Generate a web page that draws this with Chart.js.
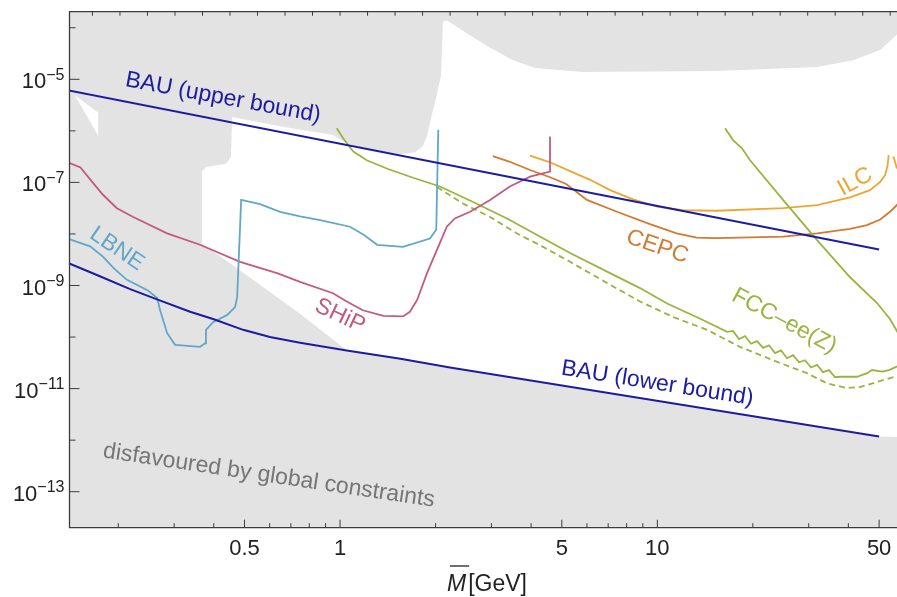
<!DOCTYPE html>
<html>
<head>
<meta charset="utf-8">
<title>HNL sensitivity</title>
<script src="https://cdn.jsdelivr.net/npm/chart.js@4.4.1/dist/chart.umd.min.js"></script>
<style>
  html, body { margin: 0; padding: 0; background: #fff; }
  canvas { display: block; }
</style>
</head>
<body>
<canvas id="chart" width="897" height="597"></canvas>
<script>
// masses in GeV, mixings given as log10(U^2)
var xRange = [0.1404, 56.93];
var yRangeLog = [-13.698, -3.689];

var xTickValues = [0.5, 1, 5, 10, 50];
var xMinorTicks = [0.2, 0.3, 0.4, 0.6, 0.7, 0.8, 0.9, 2, 3, 4, 6, 7, 8, 9, 20, 30, 40];
var yTickExps = [-13, -11, -9, -7, -5];
var yMinorExps = [-12, -10, -8, -6, -4];

var bauUpperM = [0.1, 50];
var bauUpperLogU2 = [-5.04, -8.30];

var bauLowerM = [0.135, 0.175, 0.218, 0.265, 0.337, 0.398, 0.495, 0.601, 0.748, 1.05, 1.55, 2.22, 50];
var bauLowerLogU2 = [-8.53, -8.82, -9.07, -9.27, -9.51, -9.65, -9.86, -10.00, -10.11, -10.26, -10.42, -10.59, -11.93];

var lbneM = [0.14, 0.163, 0.179, 0.193, 0.213, 0.247, 0.265, 0.271, 0.285, 0.302, 0.362, 0.376, 0.378, 0.398, 0.441,
  0.467, 0.474, 0.488, 0.560, 0.647, 0.748, 0.865, 1.075, 1.19, 1.31, 1.58, 1.92, 2.01, 2.04];
var lbneLogU2 = [-8.10, -8.24, -8.44, -8.66, -8.89, -9.09, -9.24, -9.48, -9.92, -10.15, -10.19, -10.12, -9.86, -9.71, -9.57,
  -9.42, -9.22, -7.34, -7.42, -7.57, -7.66, -7.73, -7.86, -8.02, -8.21, -8.25, -8.09, -7.92, -5.98];

var shipM = [0.14, 0.152, 0.167, 0.179, 0.198, 0.223, 0.285, 0.362, 0.484, 0.633, 0.748, 0.950, 1.05, 1.18,
  1.37, 1.58, 1.66, 1.75, 1.88, 2.02, 2.17, 2.30, 2.57, 2.97, 3.43, 3.97, 4.59, 4.59];
var shipLogU2 = [-6.62, -6.71, -7.02, -7.24, -7.50, -7.67, -7.99, -8.21, -8.54, -8.76, -8.93, -9.15, -9.31, -9.48,
  -9.59, -9.60, -9.51, -9.28, -8.76, -8.31, -7.86, -7.70, -7.57, -7.34, -7.08, -6.89, -6.79, -6.11];

var fccM = [0.976, 1.024, 1.101, 1.214, 1.417, 1.699, 2.066, 2.626, 3.36, 4.178, 5.308, 7.095, 8.82, 10.73, 13.6,
  16.59, 17.32, 18.09, 18.90, 19.74, 20.62, 21.54, 22.49, 23.49, 24.54, 25.63, 26.77, 27.96, 29.21, 30.51,
  31.87, 33.28, 34.76, 36.31, 37.66, 42.6, 45.8, 47.5, 51.1, 53.7, 57.5];
var fccLogU2 = [-5.95, -6.15, -6.40, -6.57, -6.74, -6.91, -7.08, -7.38, -7.70, -8.02, -8.37, -8.76, -9.05, -9.35, -9.64,
  -9.90, -9.88, -10.04, -9.98, -10.13, -10.08, -10.21, -10.16, -10.31, -10.26, -10.41, -10.35, -10.49, -10.45, -10.59,
  -10.54, -10.68, -10.64, -10.78, -10.77, -10.77, -10.70, -10.64, -10.67, -10.64, -10.56];

var fccDashedM = [2.02, 2.44, 2.97, 3.61, 4.36, 5.31, 6.84, 8.82, 11.2, 14.35, 18.2, 23.15, 29.6, 34.3, 39.6, 43.5, 49.3, 57.5];
var fccDashedLogU2 = [-7.09, -7.41, -7.67, -7.99, -8.25, -8.54, -8.93, -9.31, -9.61, -9.86, -10.19, -10.45, -10.70, -10.90,
  -10.99, -10.97, -10.87, -10.75];

var fccHighM = [16.35, 17.32, 18.49, 19.6, 24.9, 31.87, 40.5, 49.25, 54.1, 57.5];
var fccHighLogU2 = [-5.95, -6.18, -6.34, -6.57, -7.34, -8.12, -8.84, -9.34, -9.65, -9.93];

var cepcM = [3.03, 3.43, 3.97, 4.59, 5.16, 5.58, 6.00, 7.46, 9.48, 11.5, 13.3, 15.4, 24.9, 31.9, 40.5, 45.8, 50.4, 54.1, 57.5];
var cepcLogU2 = [-6.49, -6.60, -6.76, -6.90, -7.03, -7.19, -7.34, -7.57, -7.81, -7.99, -8.07, -8.08, -8.05, -7.99, -7.90,
  -7.83, -7.72, -7.57, -7.41];

var ilcM = [3.97, 4.59, 5.31, 6.14, 7.10, 8.39, 9.98, 12.05, 15.4, 24.9, 31.9, 40.5, 46.8, 50.4, 52.2, 53.15, 53.6];
var ilcLogU2 = [-6.48, -6.61, -6.78, -6.95, -7.15, -7.33, -7.47, -7.54, -7.55, -7.50, -7.44, -7.29, -7.15, -6.99, -6.86,
  -6.68, -6.47];
var ilcTailM = [55.5, 56.9];
var ilcTailLogU2 = [-6.50, -6.73];

// region left open by the global constraints (everything else is disfavoured)
var allowedM = [0.457, 0.647, 0.950, 1.037, 1.156, 1.337, 1.546, 1.723, 1.826, 1.880, 1.936, 2.007, 2.081, 2.11, 2.174,
  2.532, 2.97, 3.51, 4.12, 5.83, 15.43, 31.87, 41.4, 50.4, 60, 60, 50, 2.22, 1.546, 1.052, 0.748, 0.532, 0.367, 0.367,
  0.378, 0.437, 0.453];
var allowedLogU2 = [-5.73, -5.91, -6.08, -6.22, -6.33, -6.41, -6.45, -6.42, -6.29, -6.10, -5.75, -5.36, -4.92, -3.88, -3.86,
  -4.12, -4.39, -4.63, -4.78, -4.86, -4.84, -4.76, -4.63, -4.43, -4.0, -11.94, -11.93, -10.59, -10.42, -10.26, -9.55, -8.89,
  -8.18, -6.80, -6.70, -6.64, -6.51];
var sliverM = [0.146, 0.173, 0.173];
var sliverLogU2 = [-5.31, -5.65, -6.10];

function pts(m, lu) {
	return m.map((v, i) => ({ x: v, y: Math.pow(10, lu[i]) }));
}

var GRAY = "#e3e3e3";
var BAU = "#1c1ca2";
var LBNE = "#62a6c9";
var SHIP = "#c25a82";
var FCC = "#98b540";
var CEPC = "#d27a30";
var ILC = "#eca634";

var FONT = '"Liberation Sans", Arial, sans-serif';

var labels = [
	{ text: "BAU (upper bound)", m: 0.428, lu: -5.36, angle: 10.5, color: BAU },
	{ text: "LBNE", m: 0.198, lu: -8.29, angle: 34, color: LBNE },
	{ text: "SHiP", m: 1.0, lu: -9.59, angle: 25, color: SHIP },
	{ text: "CEPC", m: 10.0, lu: -8.25, angle: 19, color: CEPC },
	{ text: "ILC", m: 42.0, lu: -6.99, angle: -29, color: ILC },
	{ text: "FCC\u2013ee(Z)", m: 25.1, lu: -9.69, angle: 28, color: FCC },
	{ text: "BAU (lower bound)", m: 10.0, lu: -10.90, angle: 9, color: BAU },
	{ text: "disfavoured by global constraints", m: 0.597, lu: -12.69, angle: 8.5, color: "#767676" },
];

function region(data, color) {
	return { data: data, fill: "shape", backgroundColor: color, borderColor: "rgba(0,0,0,0)", borderWidth: 0,
		pointRadius: 0, order: 10 };
}
function curve(data, color, width, dash) {
	return { data: data, fill: false, borderColor: color, borderWidth: width, borderDash: dash || [],
		pointRadius: 0, tension: 0, order: 1 };
}

var framePlugin = {
	id: "frame",
	beforeDraw(chart) {
		var a = chart.chartArea, ctx = chart.ctx;
		ctx.save();
		ctx.fillStyle = GRAY;
		ctx.fillRect(a.left, a.top, a.right - a.left, a.bottom - a.top);
		ctx.restore();
	},
	afterDraw(chart) {
		var ctx = chart.ctx, a = chart.chartArea;
		var xs = chart.scales.x, ys = chart.scales.y;
		ctx.save();

		// annotations
		labels.forEach((l) => {
			ctx.save();
			ctx.translate(xs.getPixelForValue(l.m), ys.getPixelForValue(Math.pow(10, l.lu)));
			ctx.rotate((l.angle * Math.PI) / 180);
			ctx.font = "23px " + FONT;
			ctx.fillStyle = l.color;
			ctx.textAlign = "center";
			ctx.textBaseline = "middle";
			ctx.fillText(l.text, 0, 0);
			ctx.restore();
		});

		// frame
		ctx.strokeStyle = "#3c3c3c";
		ctx.lineWidth = 1.3;
		ctx.beginPath();
		ctx.moveTo(a.right, a.top);
		ctx.lineTo(a.left, a.top);
		ctx.lineTo(a.left, a.bottom);
		ctx.lineTo(a.right, a.bottom);
		ctx.stroke();

		// ticks, all pointing inwards
		ctx.lineWidth = 1;
		ctx.beginPath();
		xTickValues.forEach((v) => {
			var px = xs.getPixelForValue(v);
			ctx.moveTo(px, a.bottom);
			ctx.lineTo(px, a.bottom - 8);
		});
		xMinorTicks.forEach((v) => {
			var px = xs.getPixelForValue(v);
			ctx.moveTo(px, a.bottom);
			ctx.lineTo(px, a.bottom - 4.5);
		});
		for (var k = -9; k <= 20; k++) {
			var px = xs.getPixelForValue(Math.pow(10, k * 0.0867));
			if (px > a.left + 2 && px < a.right) {
				ctx.moveTo(px, a.top);
				ctx.lineTo(px, a.top + 4);
			}
		}
		yTickExps.forEach((e) => {
			var py = ys.getPixelForValue(Math.pow(10, e));
			ctx.moveTo(a.left, py);
			ctx.lineTo(a.left + 10, py);
		});
		yMinorExps.forEach((e) => {
			var py = ys.getPixelForValue(Math.pow(10, e));
			ctx.moveTo(a.left, py);
			ctx.lineTo(a.left + 6, py);
		});
		ctx.stroke();

		// tick labels
		ctx.fillStyle = "#222";
		ctx.textBaseline = "alphabetic";
		ctx.textAlign = "center";
		ctx.font = "22px " + FONT;
		xTickValues.forEach((v) => {
			ctx.fillText(String(v), xs.getPixelForValue(v), a.bottom + 27);
		});

		yTickExps.forEach((e) => {
			var py = ys.getPixelForValue(Math.pow(10, e));
			var sup = "\u2212" + Math.abs(e);
			ctx.font = "16px " + FONT;
			var sw = ctx.measureText(sup).width;
			ctx.font = "22px " + FONT;
			var bw = ctx.measureText("10").width;
			var right = a.left - 5;
			ctx.textAlign = "left";
			ctx.fillText("10", right - sw - bw, py + 9);
			ctx.font = "16px " + FONT;
			ctx.fillText(sup, right - sw, py + 0.5);
		});

		// axis title: M with overline, then [GeV]
		ctx.font = "italic 23px " + FONT;
		var mw = ctx.measureText("M").width;
		ctx.font = "23px " + FONT;
		var gw = ctx.measureText("[GeV]").width;
		var x0 = 487 - (mw + 2 + gw) / 2;
		ctx.textAlign = "left";
		ctx.font = "italic 23px " + FONT;
		ctx.fillText("M", x0, 591);
		ctx.font = "23px " + FONT;
		ctx.fillText("[GeV]", x0 + mw + 2, 591);
		ctx.strokeStyle = "#222";
		ctx.lineWidth = 1.3;
		ctx.beginPath();
		ctx.moveTo(x0 + 3, 566);
		ctx.lineTo(x0 + mw + 3, 566);
		ctx.stroke();

		ctx.restore();
	},
};

var chart = new Chart(document.getElementById("chart"), {
	type: "line",
	data: {
		datasets: [
			curve(pts(bauUpperM, bauUpperLogU2), BAU, 2),
			curve(pts(bauLowerM, bauLowerLogU2), BAU, 2),
			curve(pts(lbneM, lbneLogU2), LBNE, 1.8),
			curve(pts(shipM, shipLogU2), SHIP, 1.8),
			curve(pts(fccM, fccLogU2), FCC, 1.8),
			curve(pts(fccDashedM, fccDashedLogU2), FCC, 1.8, [6, 4]),
			curve(pts(fccHighM, fccHighLogU2), FCC, 1.8),
			curve(pts(cepcM, cepcLogU2), CEPC, 1.8),
			curve(pts(ilcM, ilcLogU2), ILC, 1.8),
			curve(pts(ilcTailM, ilcTailLogU2), ILC, 1.8),
			region(pts(allowedM, allowedLogU2), "#ffffff"),
			region(pts(sliverM, sliverLogU2), "#ffffff"),
		],
	},
	options: {
		responsive: false,
		animation: false,
		events: [],
		layout: { padding: { left: 69.5, top: 11.7, right: 0, bottom: 69.3 } },
		plugins: { legend: { display: false }, tooltip: { enabled: false } },
		scales: {
			x: { type: "logarithmic", min: xRange[0], max: xRange[1], display: false },
			y: { type: "logarithmic", min: Math.pow(10, yRangeLog[0]), max: Math.pow(10, yRangeLog[1]), display: false },
		},
	},
	plugins: [framePlugin],
});
</script>
</body>
</html>
